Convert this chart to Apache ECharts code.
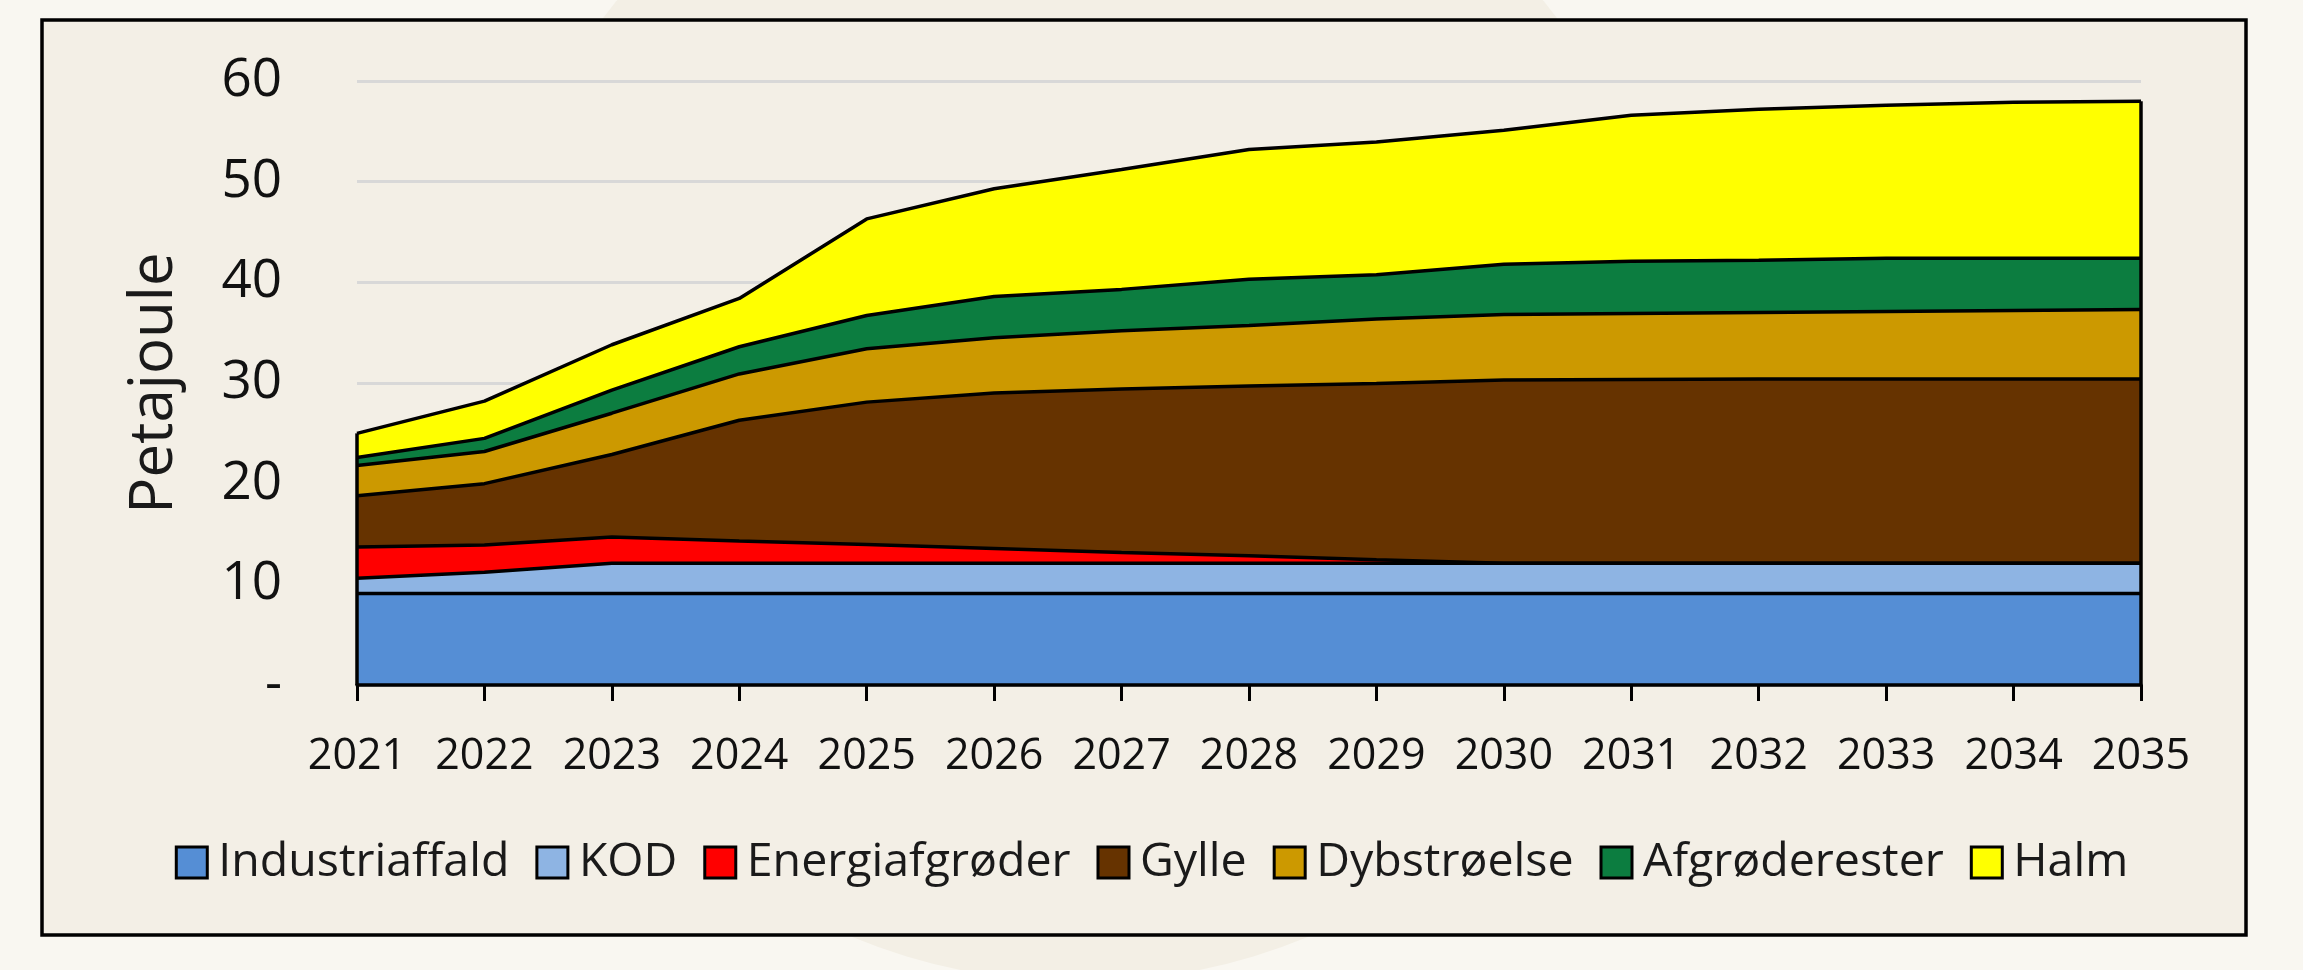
<!DOCTYPE html>
<html>
<head>
<meta charset="utf-8">
<script src="https://cdn.jsdelivr.net/npm/echarts@6/dist/echarts.min.js"></script>
<style>
  html, body { margin: 0; padding: 0; background: #f9f7f1; }
  #chart { width: 2303px; height: 970px; }
</style>
</head>
<body>
<div id="chart"></div>
<script>
// år
const years = ['2021', '2022', '2023', '2024', '2025', '2026', '2027', '2028',
  '2029', '2030', '2031', '2032', '2033', '2034', '2035']

// Petajoule pr. kilde
const industriaffald = [9.1, 9.1, 9.1, 9.1, 9.1, 9.1, 9.1, 9.1, 9.1, 9.1, 9.1, 9.1, 9.1, 9.1, 9.1]
const kod = [1.5, 2.1, 3.0, 3.0, 3.0, 3.0, 3.0, 3.0, 3.0, 3.0, 3.0, 3.0, 3.0, 3.0, 3.0]
const energiafgroder = [3.1, 2.7, 2.6, 2.2, 1.85, 1.45, 1.05, 0.75, 0.35, 0, 0, 0, 0, 0, 0]
const gylle = [5.1, 6.1, 8.2, 12.0, 14.15, 15.45, 16.25, 16.85, 17.5, 18.2, 18.25, 18.3, 18.3, 18.3, 18.3]
const dybstroelse = [3.0, 3.2, 4.1, 4.6, 5.3, 5.5, 5.8, 6.0, 6.4, 6.5, 6.55, 6.6, 6.7, 6.8, 6.9]
const afgroderester = [0.8, 1.3, 2.3, 2.7, 3.3, 4.1, 4.1, 4.6, 4.4, 5.0, 5.2, 5.2, 5.3, 5.2, 5.1]
const halm = [2.4, 3.7, 4.5, 4.8, 9.6, 10.7, 11.9, 12.9, 13.2, 13.3, 14.5, 15.0, 15.2, 15.5, 15.6]

const yTicks = { min: 0, max: 60, interval: 10 }

const kilder = [
  { name: 'Industriaffald', data: industriaffald, color: '#558ed5' },
  { name: 'KOD', data: kod, color: '#8eb4e3' },
  { name: 'Energiafgrøder', data: energiafgroder, color: '#ff0000' },
  { name: 'Gylle', data: gylle, color: '#663300' },
  { name: 'Dybstrøelse', data: dybstroelse, color: '#cc9900' },
  { name: 'Afgrøderester', data: afgroderester, color: '#0c7d40' },
  { name: 'Halm', data: halm, color: '#ffff00' }
]

const font = '"Open Sans", "DejaVu Sans", sans-serif'

// total pr. år, bruges til de lodrette kanter
const totals = years.map((_, i) => kilder.reduce((s, k) => s + k.data[i], 0))
const last = years.length - 1

// arealer
const areaSeries = kilder.map(k => ({
  name: k.name,
  type: 'line',
  stack: 'areal',
  data: k.data,
  symbol: 'none',
  z: 2,
  lineStyle: { width: 0 },
  itemStyle: { color: k.color },
  areaStyle: { color: k.color, opacity: 1 },
  silent: true
}))

// sorte kantlinjer oven på arealerne
const lineSeries = kilder.map((k, idx) => ({
  name: k.name,
  type: 'line',
  stack: 'kant',
  data: k.data,
  symbol: 'none',
  z: 3,
  lineStyle: { color: '#000', width: 3.5 },
  itemStyle: { color: k.color },
  silent: true,
  markLine: idx === kilder.length - 1 ? {
    silent: true,
    symbol: 'none',
    label: { show: false },
    lineStyle: { color: '#000', width: 3.5, type: 'solid' },
    data: [
      [{ coord: [0, 0] }, { coord: [0, totals[0]] }],
      [{ coord: [last, 0] }, { coord: [last, totals[last]] }]
    ]
  } : undefined
}))

const chart = echarts.init(document.getElementById('chart'))

chart.setOption({
  backgroundColor: '#f9f7f1',
  animation: false,
  textStyle: { fontFamily: font },
  graphic: [
    {
      type: 'circle',
      z: -20,
      silent: true,
      shape: { cx: 1080, cy: 382, r: 600 },
      style: { fill: '#f3efe5' }
    },
    {
      type: 'rect',
      z: -10,
      silent: true,
      shape: { x: 42, y: 20, width: 2204, height: 915 },
      style: { fill: '#f3efe6', stroke: '#000', lineWidth: 3.5 }
    }
  ],
  grid: {
    left: 357,
    right: 162,
    top: 81,
    bottom: 285,
    containLabel: false
  },
  legend: {
    left: 'center',
    top: 834,
    icon: 'rect',
    itemWidth: 31,
    itemHeight: 31,
    itemGap: 26,
    selectedMode: false,
    textStyle: {
      fontFamily: font,
      fontSize: 46.5,
      color: '#1a1a1a',
      padding: [0, 0, 0, 6]
    },
    data: kilder.map(k => ({
      name: k.name,
      itemStyle: { color: k.color, borderColor: '#000', borderWidth: 3 }
    }))
  },
  xAxis: {
    type: 'category',
    data: years,
    boundaryGap: false,
    z: 5,
    axisLine: { show: true, lineStyle: { color: '#000', width: 3.5 } },
    axisTick: {
      show: true,
      alignWithLabel: true,
      interval: 0,
      length: 16,
      lineStyle: { color: '#000', width: 3 }
    },
    axisLabel: {
      interval: 0,
      margin: 50,
      fontFamily: font,
      fontSize: 43,
      color: '#111'
    },
    splitLine: { show: false }
  },
  yAxis: {
    type: 'value',
    min: yTicks.min,
    max: yTicks.max,
    interval: yTicks.interval,
    name: 'Petajoule',
    nameLocation: 'middle',
    nameGap: 172,
    nameTextStyle: {
      fontFamily: font,
      fontSize: 60,
      color: '#1a1a1a'
    },
    axisLine: { show: false },
    axisTick: { show: false },
    axisLabel: {
      margin: 75,
      fontFamily: font,
      fontSize: 53,
      color: '#111',
      formatter: v => (v === 0 ? '-' : String(v))
    },
    splitLine: {
      show: true,
      lineStyle: { color: '#d8d8d8', width: 3 }
    }
  },
  series: [...areaSeries, ...lineSeries]
})
</script>
</body>
</html>
